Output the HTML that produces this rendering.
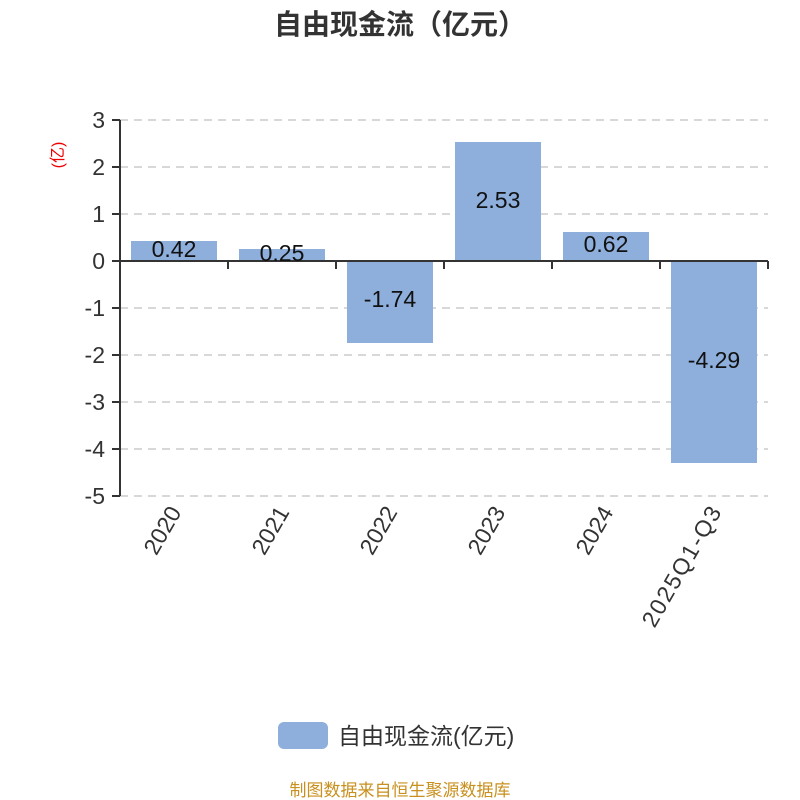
<!DOCTYPE html>
<html><head><meta charset="utf-8"><style>body{margin:0;background:#fff}svg{display:block}</style></head>
<body>
<svg width="800" height="800" xmlns="http://www.w3.org/2000/svg" font-family="'Liberation Sans','Noto Sans CJK SC',sans-serif">
<rect width="800" height="800" fill="#fff"/>
<text x="400" y="34" text-anchor="middle" font-size="28" font-weight="bold" fill="#333">自由现金流（亿元）</text>
<g stroke="#ccc" stroke-width="1.5" stroke-dasharray="8,6">
<line x1="120" y1="120" x2="768" y2="120"/><line x1="120" y1="167" x2="768" y2="167"/><line x1="120" y1="214" x2="768" y2="214"/>
<line x1="120" y1="308" x2="768" y2="308"/><line x1="120" y1="355" x2="768" y2="355"/><line x1="120" y1="402" x2="768" y2="402"/>
<line x1="120" y1="449" x2="768" y2="449"/><line x1="120" y1="496" x2="768" y2="496"/>
</g>
<g fill="#8eaedb">
<rect x="131" y="241" width="86" height="20"/>
<rect x="239" y="249" width="86" height="12"/>
<rect x="347" y="261" width="86" height="82"/>
<rect x="455" y="142" width="86" height="119"/>
<rect x="563" y="232" width="86" height="29"/>
<rect x="671" y="261" width="86" height="202"/>
</g>
<g stroke="#333" stroke-width="2">
<line x1="120" y1="120" x2="120" y2="496"/>
<line x1="120" y1="261" x2="768" y2="261"/>
<line x1="112" y1="120" x2="120" y2="120"/><line x1="112" y1="167" x2="120" y2="167"/><line x1="112" y1="214" x2="120" y2="214"/>
<line x1="112" y1="261" x2="120" y2="261"/><line x1="112" y1="308" x2="120" y2="308"/><line x1="112" y1="355" x2="120" y2="355"/>
<line x1="112" y1="402" x2="120" y2="402"/><line x1="112" y1="449" x2="120" y2="449"/><line x1="112" y1="496" x2="120" y2="496"/>
<line x1="228" y1="261" x2="228" y2="269"/><line x1="336" y1="261" x2="336" y2="269"/><line x1="444" y1="261" x2="444" y2="269"/>
<line x1="552" y1="261" x2="552" y2="269"/><line x1="660" y1="261" x2="660" y2="269"/><line x1="768" y1="261" x2="768" y2="269"/>
</g>
<g font-size="23" fill="#333" text-anchor="end">
<text x="105" y="128">3</text><text x="105" y="175">2</text><text x="105" y="222">1</text><text x="105" y="269">0</text>
<text x="105" y="316">-1</text><text x="105" y="363">-2</text><text x="105" y="410">-3</text><text x="105" y="457">-4</text><text x="105" y="504">-5</text>
</g>
<text transform="translate(63,155) rotate(-90)" text-anchor="middle" font-size="16" fill="#e00">(亿)</text>
<g font-size="23" fill="#111" text-anchor="middle">
<text x="174" y="257">0.42</text><text x="282" y="261">0.25</text><text x="390" y="307">-1.74</text>
<text x="498" y="208">2.53</text><text x="606" y="252">0.62</text><text x="714" y="368">-4.29</text>
</g>
<g font-size="23" fill="#333" text-anchor="end">
<text transform="translate(182,512) rotate(-60)">2020</text>
<text transform="translate(290,512) rotate(-60)">2021</text>
<text transform="translate(398,512) rotate(-60)">2022</text>
<text transform="translate(506,512) rotate(-60)">2023</text>
<text transform="translate(614,512) rotate(-60)">2024</text>
<text transform="translate(722,512) rotate(-60)" textLength="135">2025Q1-Q3</text>
</g>
<rect x="278" y="722" width="50" height="27" rx="6" fill="#8eaedb"/>
<text x="338" y="744" font-size="23" fill="#333">自由现金流(亿元)</text>
<text x="400" y="796" text-anchor="middle" font-size="17" fill="#c8901e">制图数据来自恒生聚源数据库</text>
</svg>
</body></html>
